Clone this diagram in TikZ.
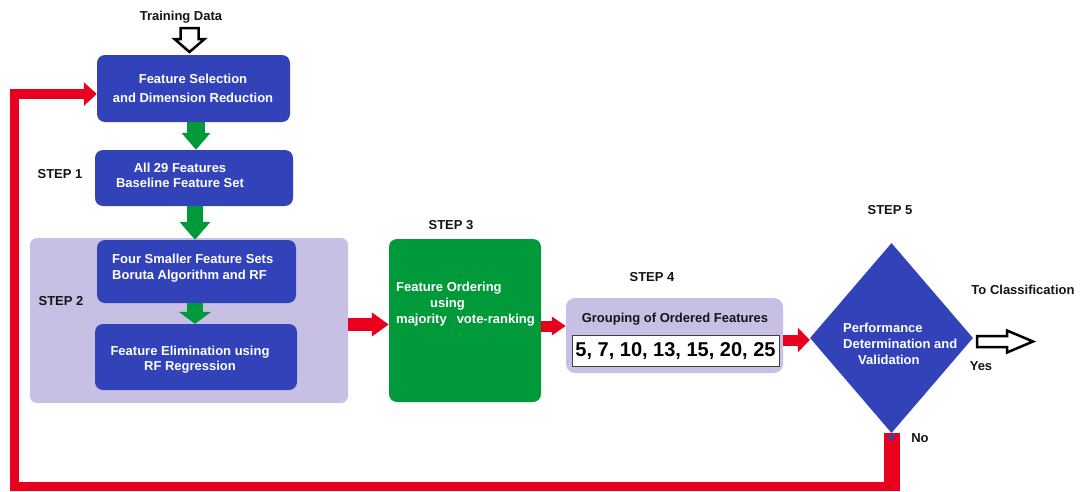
\documentclass[tikz,border=0pt]{standalone}
\usepackage{fontspec}
\setmainfont{Liberation Sans}
\usetikzlibrary{arrows.meta,shapes.geometric}
\definecolor{bblue}{RGB}{50,67,185}
\definecolor{ggreen}{RGB}{0,154,58}
\definecolor{rred}{RGB}{232,0,30}
\definecolor{lav}{RGB}{200,192,228}
\definecolor{steptxt}{RGB}{20,20,20}
\tikzset{
  bbox/.style={rectangle, rounded corners=8pt, fill=bblue, draw=none, inner sep=0pt},
  txt/.style={font=\bfseries\fontsize{13}{#1}\selectfont, inner sep=0pt, align=center, text=steptxt},
  txt/.default=16,
  wtxt/.style={txt=#1, text=white},
  wtxt/.default=16,
  hollow/.style={draw=black, line width=2.5pt, line join=miter, fill=white},
}
\begin{document}
\begin{tikzpicture}[x=1pt,y=-1pt]
\useasboundingbox (0,0) rectangle (1080,491);

% boxes
\node[bbox, minimum width=193pt, minimum height=67pt] (b1) at (193.5,88.5) {};
\node[bbox, minimum width=198pt, minimum height=56pt] (b2) at (194,178) {};
\node[rectangle, rounded corners=7pt, fill=lav, inner sep=0pt, minimum width=318pt, minimum height=165pt] (panel) at (189,320.5) {};
\node[bbox, minimum width=199pt, minimum height=63pt] (b3) at (196.5,271.5) {};
\node[bbox, minimum width=202pt, minimum height=66pt] (b4) at (196,357) {};
\node[rectangle, rounded corners=8pt, fill=ggreen, inner sep=0pt, minimum width=152pt, minimum height=163pt] (gb) at (465,320.5) {};
\node[rectangle, rounded corners=9pt, fill=lav, inner sep=0pt, minimum width=217pt, minimum height=75pt] (s4) at (674.5,335.5) {};
\node[rectangle, fill=white, draw=black!75, line width=1pt, inner sep=0pt, minimum width=207pt, minimum height=31pt] (nums) at (675.5,350.5) {};
\node[diamond, fill=bblue, inner sep=0pt, minimum width=163pt, minimum height=190pt] (dia) at (891.5,338) {};

% texts in boxes
\node[wtxt=19] (b1t) at (193,88) {Feature Selection\\and Dimension Reduction};
\node[wtxt=15.5] (b2t) at (180,175.5) {All 29 Features\\Baseline Feature Set};
\node[wtxt=16, align=left, anchor=west] (b3t) at (112,268.5) {Four Smaller Feature Sets\\Boruta Algorithm and RF};
\node[wtxt=15] (b4t) at (190,359.5) {Feature Elimination using\\RF Regression};
\node[wtxt=16, align=left, anchor=west] (gbt) at (396,304.5) {Feature Ordering\\\hspace{34pt}using\\majority\hspace{10pt}vote-ranking};
\node[txt] (s4t) at (675,319) {Grouping of Ordered Features};
\node[font=\bfseries\fontsize{20}{22}\selectfont, inner sep=0pt] (numt) at (675.5,351) {5, 7, 10, 13, 15, 20, 25};
\node[wtxt=16, align=left, anchor=west] (diat) at (843,344) {Performance\\Determination and\\\hspace{15pt}Validation};

% labels
\node[txt] (td) at (181,17) {Training Data};
\node[txt] (st1) at (60,174) {STEP 1};
\node[txt] (st2) at (61,301) {STEP 2};
\node[txt] (st3) at (451,225) {STEP 3};
\node[txt] (st4) at (652,277) {STEP 4};
\node[txt] (st5) at (890,210) {STEP 5};
\node[txt] (tc) at (1023,290) {To Classification};
\node[txt] (yes) at (981,366) {Yes};
\node[txt] (no) at (920,438) {No};

% hollow arrows
\draw[hollow] (174.5,39) -- (180.5,39) -- (180.5,28) -- (198.5,28) -- (198.5,39) -- (204.5,39) -- (189.5,52) -- cycle;
\draw[hollow] (977,336) -- (1007,336) -- (1007,330.5) -- (1033,341.5) -- (1007,352.5) -- (1007,347) -- (977,347) -- cycle;

% green arrows
\coordinate (gx1) at (196,0);
\coordinate (gx2) at (195,0);
\draw[ggreen, line width=18pt, -{Triangle[length=17pt, width=28pt]}] (b1.south -| gx1) -- (b2.north -| gx1);
\draw[ggreen, line width=16pt, -{Triangle[length=18pt, width=30pt]}] (b2.south -| gx2) -- (b3.north -| gx2);
\draw[ggreen, line width=16pt, -{Triangle[length=12pt, width=32pt]}] (b3.south -| gx2) -- (b4.north -| gx2);

% red arrows
\coordinate (ry1) at (0,324.5);
\coordinate (ry2) at (0,326);
\coordinate (ry3) at (0,340);
\draw[rred, line width=13pt, -{Triangle[length=17pt, width=23pt]}] (panel.east |- ry1) -- (gb.west |- ry1);
\draw[rred, line width=11pt, -{Triangle[length=14pt, width=18pt]}] (gb.east |- ry2) -- (s4.west |- ry2);
\draw[rred, line width=11pt, -{Triangle[length=12pt, width=24pt]}] (s4.east |- ry3) -- (dia.west |- ry3);

% feedback loop
\coordinate (bot) at (0,491);
\coordinate (lb) at (14.5,486.5);
\coordinate (lt) at (14.5,94);
\draw[rred, line width=16pt] (dia.south) -- (dia.south |- bot);
\draw[rred, line width=9.5pt, line join=miter, -{Triangle[length=13pt, width=23pt]}] (dia.south |- lb) -- (lb) -- (lt) -- (lt -| b1.west);
\fill[bblue] ([xshift=-4pt,yshift=-2pt]dia.south) -- ([xshift=4pt,yshift=-2pt]dia.south) -- ([yshift=-8pt]dia.south) -- cycle;
\end{tikzpicture}
\end{document}
